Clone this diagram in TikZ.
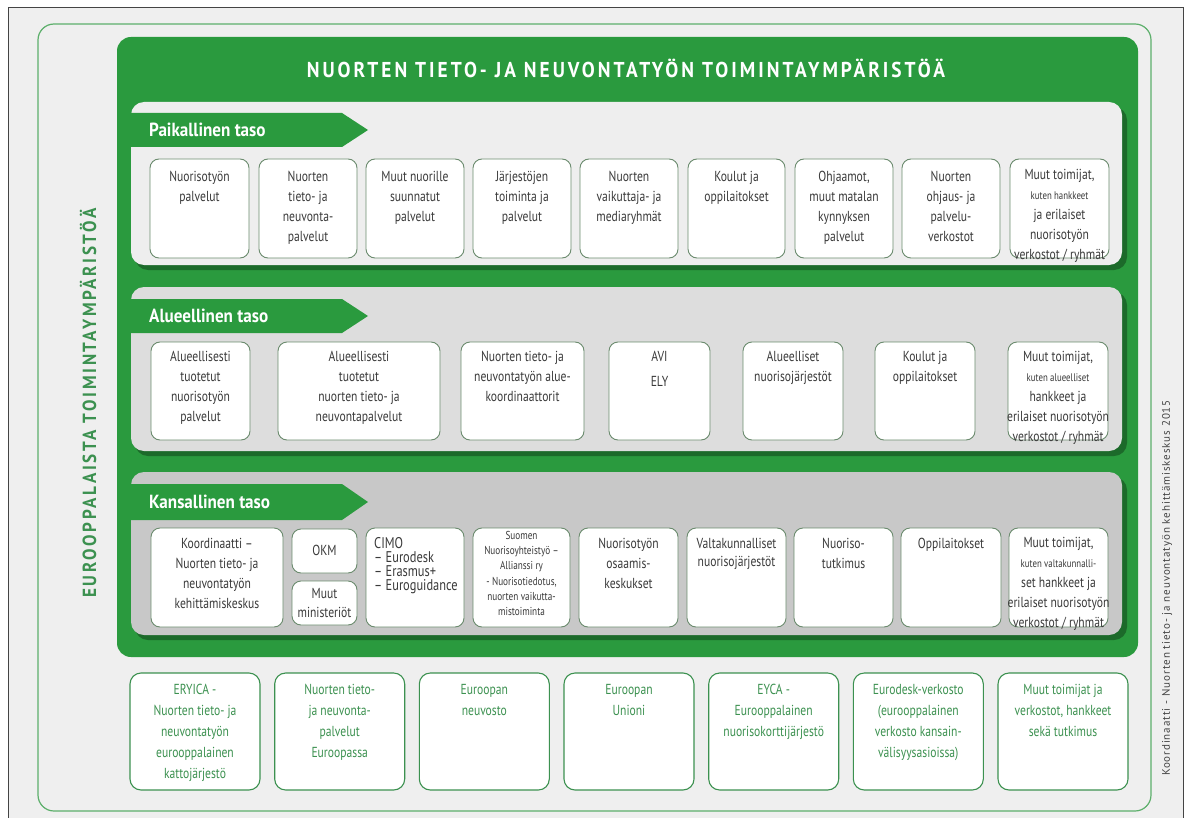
\documentclass[tikz,border=0pt]{standalone}
\usepackage{fontspec}
\setmainfont[FakeStretch=0.8]{PT Sans}
\newfontfamily\titlefont[FakeStretch=0.9,LetterSpace=14]{PT Sans}
\newfontfamily\bannerfont[FakeStretch=0.9]{PT Sans}
\newfontfamily\creditfont[LetterSpace=8]{PT Sans}
\usetikzlibrary{calc}

\definecolor{maingreen}{HTML}{2A9A3E}
\definecolor{shadowgreen}{HTML}{1C6A2A}
\definecolor{outlinegreen}{HTML}{5DAF6B}
\definecolor{eurogreen}{HTML}{3C9150}
\definecolor{backgray}{HTML}{EFEFEF}
\definecolor{framegray}{HTML}{444444}
\definecolor{localgray}{HTML}{EEEEEE}
\definecolor{regiongray}{HTML}{DDDDDD}
\definecolor{nationgray}{HTML}{C8C8C8}
\definecolor{cellline}{HTML}{6B8B6E}
\definecolor{celltxt}{HTML}{3A3A3A}

\newcommand{\boxfont}{\fontsize{14.5}{20}\selectfont}
\newcommand{\smallfont}{\fontsize{11}{17}\selectfont}

\begin{document}
\begin{tikzpicture}[x=1pt, y=-1pt,
  cell/.style={draw=cellline, fill=white, line width=0.9pt, rounded corners=9pt},
  celltext/.style={anchor=north, align=center, inner sep=0pt, text=celltxt, font=\boxfont},
  eurocell/.style={draw=eurogreen, fill=white, line width=1.1pt, rounded corners=11pt},
  eurotext/.style={celltext, text=eurogreen, font=\fontsize{14.5}{21}\selectfont},
  bannertext/.style={anchor=west, inner sep=0pt, text=white, font=\bannerfont\fontsize{19}{22}\selectfont\bfseries}]

\useasboundingbox (0,0) rectangle (1190,818);
\fill[white] (0,0) rectangle (1190,818);
\fill[backgray] (8,8) rectangle (1183,818);
\draw[framegray, line width=1pt] (8,818) -- (8,8) -- (1183,8) -- (1183,818);

\draw[outlinegreen, line width=1.2pt, rounded corners=16pt] (38,24) rectangle (1151,811);
\fill[maingreen, rounded corners=14pt] (117,37) rectangle (1138,657);

\node[text=white, font=\titlefont\fontsize{21.5}{24}\selectfont\bfseries] (title) at (626,68) {NUORTEN TIETO- JA NEUVONTATYÖN TOIMINTAYMPÄRISTÖÄ};

\node[rotate=90, text=eurogreen, font=\titlefont\fontsize{19}{22}\selectfont\bfseries] (europe) at (88,403) {EUROOPPALAISTA TOIMINTAYMPÄRISTÖÄ};
\node[rotate=90, text=framegray, font=\creditfont\fontsize{11}{12}\selectfont] (credit) at (1167,588) {Koordinaatti - Nuorten tieto- ja neuvontatyön kehittämiskeskus 2015};

\fill[shadowgreen, rounded corners=13pt] (135,107) rectangle (1127,270);
\fill[localgray, rounded corners=13pt] (131,102) rectangle (1122,265);
\fill[shadowgreen, rounded corners=13pt] (135,292) rectangle (1127,456);
\fill[regiongray, rounded corners=13pt] (131,287) rectangle (1122,451);
\fill[shadowgreen, rounded corners=13pt] (135,477) rectangle (1127,640);
\fill[nationgray, rounded corners=13pt] (131,472) rectangle (1122,635);

\fill[maingreen] (131,113) -- (342,113) -- (368,130) -- (342,147) -- (131,147) -- cycle;
\fill[maingreen] (131,299) -- (342,299) -- (368,316) -- (342,333) -- (131,333) -- cycle;
\fill[maingreen] (131,484) -- (342,484) -- (368,502) -- (342,520) -- (131,520) -- cycle;
\node[bannertext] (paikallinen) at (149,130) {Paikallinen taso};
\node[bannertext] (alueellinen) at (149,316) {Alueellinen taso};
\node[bannertext] (kansallinen) at (149,502) {Kansallinen taso};

\draw[cell] (150,159) rectangle (249,258);
\draw[cell] (259,159) rectangle (357,258);
\draw[cell] (366,159) rectangle (464,258);
\draw[cell] (473,159) rectangle (571,258);
\draw[cell] (580,159) rectangle (678,258);
\draw[cell] (688,159) rectangle (785,258);
\draw[cell] (795,159) rectangle (893,258);
\draw[cell] (902,159) rectangle (1000,258);
\draw[cell] (1010,159) rectangle (1109,258);
\node[celltext] (p1) at (199.5,171) {Nuorisotyön\\palvelut};
\node[celltext] (p2) at (308,171) {Nuorten\\tieto- ja\\neuvonta-\\palvelut};
\node[celltext] (p3) at (415,171) {Muut nuorille\\suunnatut\\palvelut};
\node[celltext] (p4) at (522,171) {Järjestöjen\\toiminta ja\\palvelut};
\node[celltext] (p5) at (629,171) {Nuorten\\vaikuttaja- ja\\mediaryhmät};
\node[celltext] (p6) at (736.5,171) {Koulut ja\\oppilaitokset};
\node[celltext] (p7) at (844,171) {Ohjaamot,\\muut matalan\\kynnyksen\\palvelut};
\node[celltext] (p8) at (951,171) {Nuorten\\ohjaus- ja\\palvelu-\\verkostot};
\node[celltext] (p9) at (1059.5,169) {Muut toimijat,\\\smallfont kuten hankkeet\\ja erilaiset\\nuorisotyön\\verkostot / ryhmät};

\draw[cell] (151,342) rectangle (250,440);
\draw[cell] (278,342) rectangle (440,440);
\draw[cell] (461,342) rectangle (584,440);
\draw[cell] (609,342) rectangle (710,440);
\draw[cell] (743,342) rectangle (843,440);
\draw[cell] (875,342) rectangle (975,440);
\draw[cell] (1008,342) rectangle (1108,440);
\node[celltext] (a1) at (200.5,351) {Alueellisesti\\tuotetut\\nuorisotyön\\palvelut};
\node[celltext] (a2) at (359,351) {Alueellisesti\\tuotetut\\nuorten tieto- ja\\neuvontapalvelut};
\node[celltext] (a3) at (522.5,351) {Nuorten tieto- ja\\neuvontatyön alue-\\koordinaattorit};
\node[celltext] (a4) at (659.5,351) {AVI\\[5pt]ELY};
\node[celltext] (a5) at (793,351) {Alueelliset\\nuorisojärjestöt};
\node[celltext] (a6) at (925,351) {Koulut ja\\oppilaitokset};
\node[celltext] (a7) at (1058,351) {Muut toimijat,\\\smallfont kuten alueelliset\\hankkeet ja\\erilaiset nuorisotyön\\verkostot / ryhmät};

\draw[cell] (151,528) rectangle (283,627);
\draw[cell] (292,529) rectangle (357,573);
\draw[cell] (292,581) rectangle (357,625);
\draw[cell] (366,528) rectangle (464,627);
\draw[cell] (473,528) rectangle (570,627);
\draw[cell] (579,528) rectangle (678,627);
\draw[cell] (687,528) rectangle (786,627);
\draw[cell] (794,528) rectangle (893,627);
\draw[cell] (901,528) rectangle (1001,627);
\draw[cell] (1009,528) rectangle (1108,627);
\node[celltext] (k1) at (217,538) {Koordinaatti –\\Nuorten tieto- ja\\neuvontatyön\\kehittämiskeskus};
\node[celltext, anchor=center] (okm) at (324.5,550.5) {OKM};
\node[celltext, anchor=center, font=\fontsize{14.5}{19}\selectfont] (ministeriot) at (324.5,603) {Muut\\ministeriöt};
\node[celltext, anchor=north west, align=left, font=\fontsize{15.5}{14}\selectfont] (cimo) at (374,537) {CIMO\\– Eurodesk\\– Erasmus+\\– Euroguidance};
\node[celltext, font=\fontsize{11.5}{15.3}\selectfont] (allianssi) at (521.5,531) {Suomen\\Nuorisoyhteistyö –\\Allianssi ry\\- Nuorisotiedotus,\\nuorten vaikutta-\\mistoiminta};
\node[celltext] (k6) at (628.5,538) {Nuorisotyön\\osaamis-\\keskukset};
\node[celltext, font=\fontsize{14.5}{18}\selectfont] (k7) at (736.5,538) {Valtakunnalliset\\nuorisojärjestöt};
\node[celltext] (k8) at (843.5,538) {Nuoriso-\\tutkimus};
\node[celltext] (k9) at (951,538) {Oppilaitokset};
\node[celltext] (k10) at (1058.5,537) {Muut toimijat,\\\smallfont kuten valtakunnalli-\\set hankkeet ja\\erilaiset nuorisotyön\\verkostot / ryhmät};

\draw[eurocell] (130,673) rectangle (260,790);
\draw[eurocell] (274.7,673) rectangle (404.7,790);
\draw[eurocell] (419.3,673) rectangle (549.3,790);
\draw[eurocell] (564,673) rectangle (694,790);
\draw[eurocell] (708.7,673) rectangle (838.7,790);
\draw[eurocell] (853.3,673) rectangle (983.3,790);
\draw[eurocell] (998,673) rectangle (1128,790);
\node[eurotext] (e1) at (195,684) {ERYICA -\\Nuorten tieto- ja\\neuvontatyön\\eurooppalainen\\kattojärjestö};
\node[eurotext] (e2) at (339.7,684) {Nuorten tieto-\\ja neuvonta-\\palvelut\\Euroopassa};
\node[eurotext] (e3) at (484.3,684) {Euroopan\\neuvosto};
\node[eurotext] (e4) at (629,684) {Euroopan\\Unioni};
\node[eurotext] (e5) at (773.7,684) {EYCA -\\Eurooppalainen\\nuorisokorttijärjestö};
\node[eurotext] (e6) at (918.3,684) {Eurodesk-verkosto\\(eurooppalainen\\verkosto kansain-\\välisyysasioissa)};
\node[eurotext] (e7) at (1063,684) {Muut toimijat ja\\verkostot, hankkeet\\sekä tutkimus};

\end{tikzpicture}
\end{document}
